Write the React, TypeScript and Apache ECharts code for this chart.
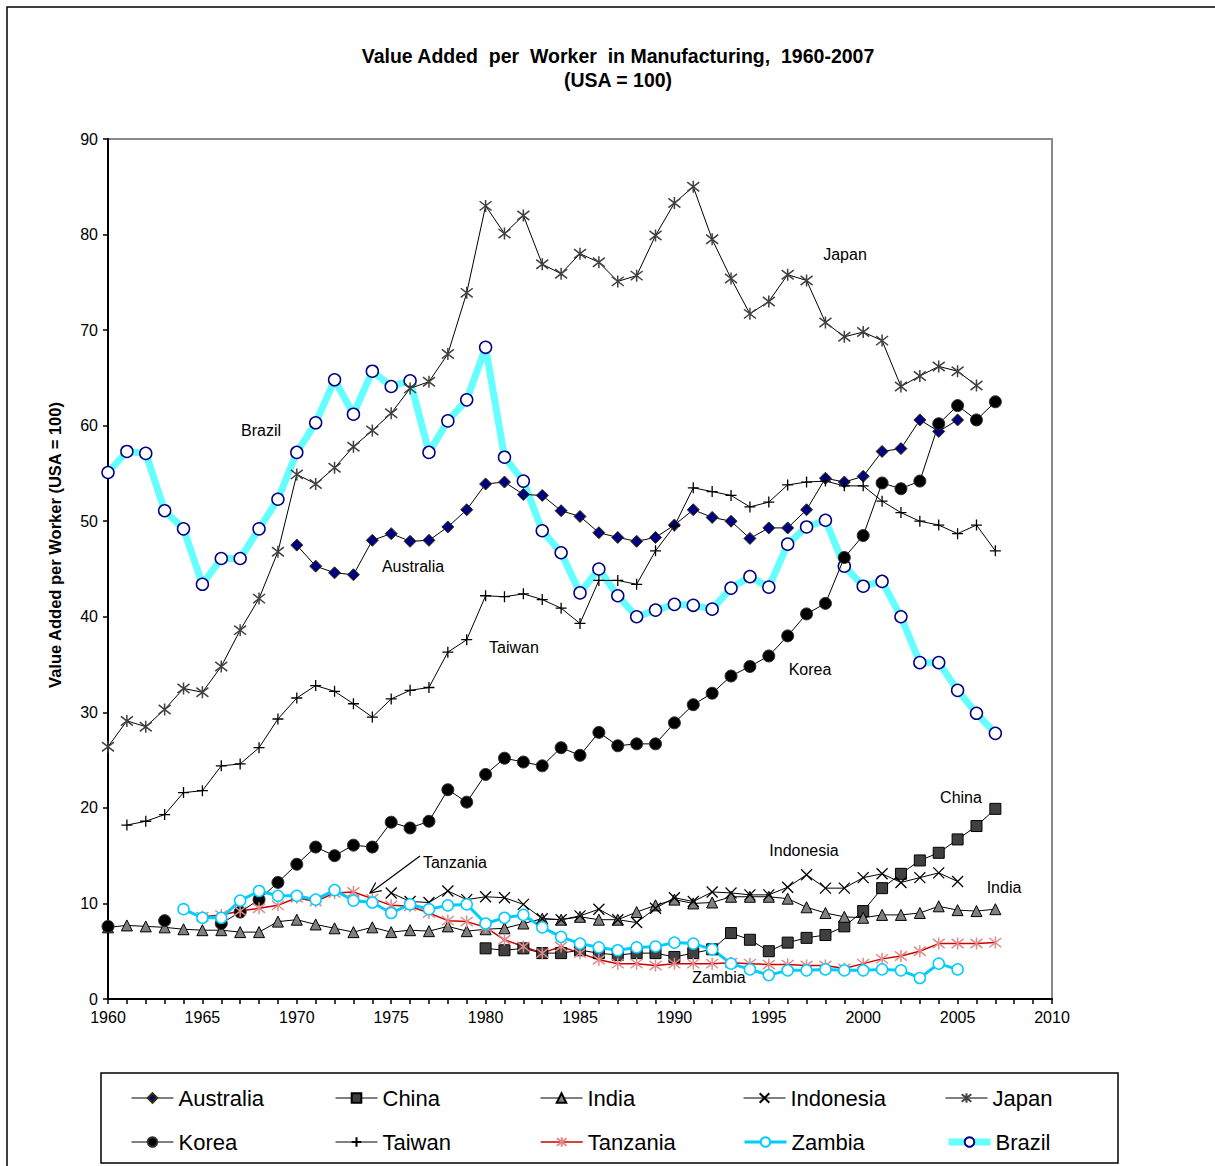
import React, { useEffect, useRef } from "react";
import * as echarts from "echarts";

// ---- data (USA = 100) ----
const yearsAxis = [1960, 1965, 1970, 1975, 1980, 1985, 1990, 1995, 2000, 2005, 2010];

const australiaStart = 1970;
const australia = [
  47.5, 45.3, 44.6, 44.4, 48.0, 48.7, 47.9, 48.0, 49.4, 51.2,
  53.9, 54.1, 52.8, 52.7, 51.1, 50.5, 48.8, 48.3, 47.9, 48.3,
  49.6, 51.2, 50.4, 50.0, 48.2, 49.3, 49.3, 51.2, 54.5, 54.1,
  54.7, 57.3, 57.6, 60.6, 59.4, 60.6,
];

const chinaStart = 1980;
const china = [
  5.3, 5.1, 5.3, 4.8, 4.8, 5.1, 4.8, 4.6, 4.8, 4.8,
  4.4, 4.8, 5.2, 6.9, 6.2, 5.0, 5.9, 6.4, 6.7, 7.6,
  9.2, 11.6, 13.1, 14.5, 15.3, 16.7, 18.1, 19.9,
];

const indiaStart = 1960;
const india = [
  7.5, 7.7, 7.6, 7.5, 7.3, 7.2, 7.2, 7.0, 7.0, 8.1,
  8.3, 7.8, 7.4, 7.0, 7.5, 7.0, 7.2, 7.1, 7.6, 7.1,
  7.3, 7.4, 7.9, 8.4, 8.3, 8.6, 8.3, 8.3, 9.1, 9.8,
  10.4, 10.0, 10.1, 10.7, 10.7, 10.7, 10.5, 9.6, 9.0, 8.6,
  8.5, 8.8, 8.8, 9.0, 9.7, 9.3, 9.2, 9.4,
];

const indonesiaStart = 1975;
const indonesia = [
  11.1, 10.2, 10.1, 11.3, 10.4,
  10.7, 10.6, 9.9, 8.4, 8.3, 8.7, 9.4, 8.3, 8.0, 9.5,
  10.6, 10.2, 11.2, 11.1, 10.9, 10.9, 11.7, 13.0, 11.6, 11.6,
  12.7, 13.1, 12.2, 12.7, 13.2, 12.3,
];

const japanStart = 1960;
const japan = [
  26.4, 29.1, 28.5, 30.3, 32.5, 32.1, 34.8, 38.6, 41.9, 46.8,
  54.9, 53.9, 55.6, 57.8, 59.5, 61.3, 63.9, 64.6, 67.5, 73.9,
  83.0, 80.1, 82.0, 76.9, 75.9, 78.0, 77.1, 75.1, 75.7, 79.9,
  83.3, 85.0, 79.5, 75.4, 71.7, 73.0, 75.8, 75.2, 70.8, 69.3,
  69.8, 68.9, 64.1, 65.2, 66.2, 65.7, 64.2,
];

const koreaStart = 1960;
const korea = [
  7.6, null, null, 8.2, null, null, 7.9, 9.1, 10.4, 12.2,
  14.1, 15.9, 15.0, 16.1, 15.9, 18.5, 17.9, 18.6, 21.9, 20.6,
  23.5, 25.2, 24.8, 24.4, 26.3, 25.5, 27.9, 26.5, 26.7, 26.7,
  28.9, 30.8, 32.0, 33.8, 34.8, 35.9, 38.0, 40.3, 41.4, 46.2,
  48.5, 54.0, 53.4, 54.2, 60.2, 62.1, 60.6, 62.5,
];

const taiwanStart = 1961;
const taiwan = [
  18.2, 18.6, 19.3, 21.6, 21.8, 24.4, 24.6, 26.3, 29.3,
  31.5, 32.8, 32.2, 30.9, 29.5, 31.4, 32.3, 32.6, 36.3, 37.6,
  42.2, 42.1, 42.4, 41.8, 40.9, 39.3, 43.8, 43.8, 43.4, 46.9,
  49.5, 53.5, 53.1, 52.7, 51.5, 52.0, 53.8, 54.1, 54.2, 53.7,
  53.7, 52.1, 50.9, 50.0, 49.6, 48.7, 49.6, 46.9,
];

const tanzaniaStart = 1965;
const tanzania = [
  8.6, 8.8, 9.2, 9.5, 9.8,
  10.6, 10.2, 11.1, 11.2, 10.5, 9.8, 9.7, 9.0, 8.2, 8.1,
  7.5, 6.2, 5.5, 4.8, 5.5, 4.8, 4.1, 3.7, 3.7, 3.5,
  3.7, 3.7, 3.7, 3.8, 3.7, 3.6, 3.6, 3.5, 3.5, 3.2,
  3.7, 4.2, 4.5, 5.0, 5.8, 5.8, 5.8, 5.9,
];

const zambiaStart = 1964;
const zambia = [
  9.4, 8.5, 8.5, 10.3, 11.3, 10.8,
  10.8, 10.4, 11.4, 10.3, 10.1, 9.0, 9.9, 9.4, 9.8, 9.9,
  7.9, 8.5, 8.8, 7.5, 6.5, 5.8, 5.4, 5.1, 5.4, 5.5,
  5.9, 5.8, 5.2, 3.7, 3.1, 2.5, 3.0, 3.0, 3.1, 3.0,
  3.0, 3.1, 3.0, 2.2, 3.7, 3.1,
];

const brazilStart = 1960;
const brazil = [
  55.1, 57.3, 57.1, 51.1, 49.2, 43.4, 46.1, 46.1, 49.2, 52.3,
  57.2, 60.3, 64.8, 61.2, 65.7, 64.1, 64.7, 57.2, 60.5, 62.7,
  68.2, 56.7, 54.2, 49.0, 46.7, 42.5, 45.0, 42.2, 40.0, 40.7,
  41.3, 41.2, 40.8, 43.0, 44.2, 43.1, 47.6, 49.4, 50.1, 45.3,
  43.2, 43.7, 40.0, 35.2, 35.2, 32.3, 29.9, 27.8,
];

const legendNames = [
  "Australia", "China", "India", "Indonesia", "Japan",
  "Korea", "Taiwan", "Tanzania", "Zambia", "Brazil",
];

const annotations = [
  { text: "Japan", x: 845, y: 254 },
  { text: "Brazil", x: 261, y: 430 },
  { text: "Australia", x: 413, y: 566 },
  { text: "Taiwan", x: 514, y: 647 },
  { text: "Korea", x: 810, y: 669 },
  { text: "China", x: 961, y: 797 },
  { text: "Indonesia", x: 804, y: 850 },
  { text: "India", x: 1004, y: 887 },
  { text: "Tanzania", x: 455, y: 862 },
  { text: "Zambia", x: 719, y: 977 },
];

const FONT = "'Liberation Sans', Arial, Helvetica, sans-serif";

const mk = (start: number, vals: (number | null)[]) =>
  vals.map((v, i) => [start + i, v == null ? "-" : v]);

const SYM_X = "path://M0,0L10,10M10,0L0,10";
const SYM_PLUS = "path://M5,0L5,10M0,5L10,5";
const SYM_STAR = "path://M0,1.5L10,11.5M10,1.5L0,11.5M5,0L5,13";

function lineSeries(
  name: string,
  data: any[],
  opts: {
    lineColor: string;
    lineWidth: number;
    symbol: string;
    symbolSize: number;
    fill: string;
    border: string;
    borderWidth: number;
    z?: number;
  }
) {
  return {
    name,
    type: "line",
    data,
    symbol: opts.symbol,
    symbolSize: opts.symbolSize,
    showSymbol: true,
    connectNulls: false,
    z: opts.z ?? 2,
    lineStyle: { color: opts.lineColor, width: opts.lineWidth },
    itemStyle: {
      color: opts.fill,
      borderColor: opts.border,
      borderWidth: opts.borderWidth,
    },
    emphasis: { disabled: true },
  };
}

const legendLineWidth: Record<string, number> = { Brazil: 7, Zambia: 3, Tanzania: 1.5 };
const legendLineColor: Record<string, string> = { Brazil: "#66ffff", Zambia: "#00ccff", Tanzania: "#cc0000" };

export default function App() {
  const ref = useRef<HTMLDivElement>(null);

  useEffect(() => {
    if (!ref.current) return;
    const chart = echarts.init(ref.current, null, { renderer: "svg" });

    const series = [
      lineSeries("Brazil", mk(brazilStart, brazil), {
        lineColor: "#66ffff", lineWidth: 7, symbol: "circle", symbolSize: 12,
        fill: "#ffffff", border: "#000080", borderWidth: 1.5, z: 1,
      }),
      lineSeries("Australia", mk(australiaStart, australia), {
        lineColor: "#000000", lineWidth: 1, symbol: "diamond", symbolSize: 12,
        fill: "#000080", border: "#333300", borderWidth: 1,
      }),
      lineSeries("China", mk(chinaStart, china), {
        lineColor: "#000000", lineWidth: 1, symbol: "rect", symbolSize: 11,
        fill: "#404040", border: "#000000", borderWidth: 1,
      }),
      lineSeries("India", mk(indiaStart, india), {
        lineColor: "#000000", lineWidth: 1, symbol: "triangle", symbolSize: 11,
        fill: "#808080", border: "#000000", borderWidth: 1,
      }),
      lineSeries("Indonesia", mk(indonesiaStart, indonesia), {
        lineColor: "#000000", lineWidth: 1, symbol: SYM_X, symbolSize: 11,
        fill: "#000000", border: "#000000", borderWidth: 1.3,
      }),
      lineSeries("Japan", mk(japanStart, japan), {
        lineColor: "#000000", lineWidth: 1, symbol: SYM_STAR, symbolSize: 12,
        fill: "#404040", border: "#404040", borderWidth: 1.5,
      }),
      lineSeries("Korea", mk(koreaStart, korea), {
        lineColor: "#000000", lineWidth: 1, symbol: "circle", symbolSize: 12,
        fill: "#000000", border: "#303030", borderWidth: 1,
      }),
      lineSeries("Taiwan", mk(taiwanStart, taiwan), {
        lineColor: "#000000", lineWidth: 1, symbol: SYM_PLUS, symbolSize: 11,
        fill: "#000000", border: "#000000", borderWidth: 1.3,
      }),
      lineSeries("Tanzania", mk(tanzaniaStart, tanzania), {
        lineColor: "#cc0000", lineWidth: 1.5, symbol: SYM_STAR, symbolSize: 12,
        fill: "#e08a8a", border: "#e08a8a", borderWidth: 1.5,
      }),
      lineSeries("Zambia", mk(zambiaStart, zambia), {
        lineColor: "#00ccff", lineWidth: 3, symbol: "circle", symbolSize: 11,
        fill: "#ffffff", border: "#00ccff", borderWidth: 1.5,
      }),
    ];

    const colLeft = [131, 335, 540, 743, 945];
    const rowCenter = [1098, 1142];
    const legends = legendNames.map((n, i) => ({
      show: true,
      data: [n],
      left: colLeft[i % 5],
      top: rowCenter[Math.floor(i / 5)] - 12,
      padding: 0,
      itemWidth: 42,
      itemHeight: 12,
      itemGap: 0,
      selectedMode: false,
      lineStyle: {
        width: legendLineWidth[n] ?? 1,
        color: legendLineColor[n] ?? "#000",
      },
      textStyle: { fontFamily: FONT, fontSize: 22, color: "#000", lineHeight: 24, padding: [0, 0, 0, 0] },
    }));

    // arrow for Tanzania label
    const tip = [370, 893];
    const tail = [420, 856];
    const dx = tail[0] - tip[0];
    const dy = tail[1] - tip[1];
    const L = Math.hypot(dx, dy);
    const ux = dx / L, uy = dy / L;
    const ang = (25 * Math.PI) / 180;
    const hl = 12;
    const rot = (a: number) => [
      tip[0] + hl * (ux * Math.cos(a) - uy * Math.sin(a)),
      tip[1] + hl * (ux * Math.sin(a) + uy * Math.cos(a)),
    ];
    const h1 = rot(ang);
    const h2 = rot(-ang);

    const graphics: any[] = [
      {
        type: "rect", silent: true, z: -10,
        shape: { x: 7, y: 7, width: 1230, height: 1200 },
        style: { fill: "none", stroke: "#000", lineWidth: 1.5 },
      },
      {
        type: "rect", silent: true, z: 0,
        shape: { x: 101, y: 1073, width: 1017, height: 90 },
        style: { fill: "#fff", stroke: "#000", lineWidth: 1.5 },
      },
      {
        type: "text", silent: true,
        style: {
          text: "Value Added  per  Worker  in Manufacturing,  1960-2007",
          x: 618, y: 56, align: "center", verticalAlign: "middle",
          font: `bold 19.5px ${FONT}`, fill: "#000",
        },
      },
      {
        type: "text", silent: true,
        style: {
          text: "(USA = 100)", x: 618, y: 80, align: "center", verticalAlign: "middle",
          font: `bold 19.5px ${FONT}`, fill: "#000",
        },
      },
      {
        type: "text", silent: true,
        x: 55, y: 545, rotation: Math.PI / 2,
        style: {
          text: "Value Added per Worker (USA = 100)", x: 0, y: 0,
          align: "center", verticalAlign: "middle",
          font: `bold 16.5px ${FONT}`, fill: "#000",
        },
      },
      ...annotations.map((a) => ({
        type: "text", silent: true, z: 10,
        style: {
          text: a.text, x: a.x, y: a.y, align: "center", verticalAlign: "middle",
          font: `16px ${FONT}`, fill: "#000",
        },
      })),
      {
        type: "line", silent: true, z: 10,
        shape: { x1: tail[0], y1: tail[1], x2: tip[0], y2: tip[1] },
        style: { stroke: "#000", lineWidth: 1.2 },
      },
      {
        type: "polyline", silent: true, z: 10,
        shape: { points: [h1, tip, h2] },
        style: { stroke: "#000", lineWidth: 1.2, fill: "none" },
      },
    ];

    chart.setOption({
      animation: false,
      backgroundColor: "#ffffff",
      textStyle: { fontFamily: FONT },
      grid: {
        left: 108, top: 139, width: 944, height: 860, show: true,
        borderColor: "#8a8a8a", borderWidth: 2, backgroundColor: "transparent",
      },
      legend: legends,
      xAxis: {
        type: "value",
        min: yearsAxis[0],
        max: yearsAxis[yearsAxis.length - 1],
        interval: 5,
        axisLine: { show: true, onZero: false, lineStyle: { color: "#000", width: 2 } },
        axisTick: { show: true, length: 5, lineStyle: { color: "#000", width: 1.5 } },
        minorTick: { show: true, splitNumber: 5, length: 5, lineStyle: { color: "#000", width: 1.5 } },
        splitLine: { show: false },
        minorSplitLine: { show: false },
        axisLabel: {
          fontSize: 16, color: "#000", margin: 10, fontFamily: FONT,
          formatter: (v: number) => String(v),
        },
      },
      yAxis: {
        type: "value",
        min: 0,
        max: 90,
        interval: 10,
        axisLine: { show: true, lineStyle: { color: "#000", width: 2 } },
        axisTick: { show: true, length: 5, lineStyle: { color: "#000", width: 1.5 } },
        splitLine: { show: false },
        axisLabel: { fontSize: 16, color: "#000", margin: 10, fontFamily: FONT },
      },
      series,
      graphic: graphics,
    });

    return () => chart.dispose();
  }, []);

  return (
    <div
      ref={ref}
      style={{ position: "absolute", left: 0, top: 0, width: 1215, height: 1166, background: "#fff" }}
    />
  );
}
